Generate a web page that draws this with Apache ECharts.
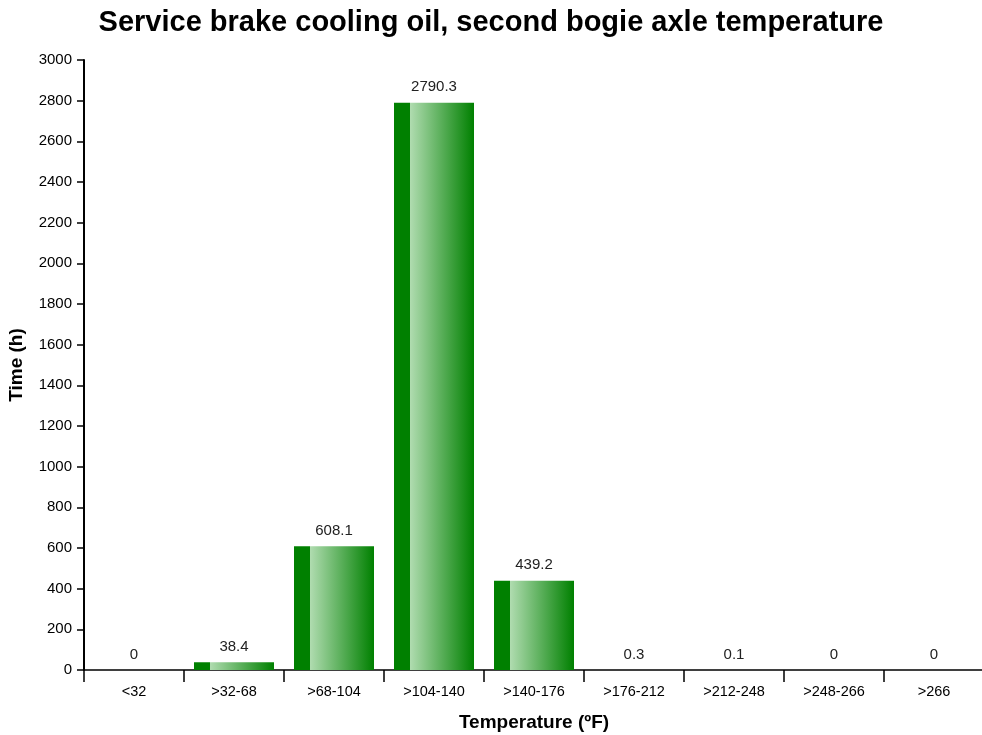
<!DOCTYPE html>
<html>
<head>
<meta charset="utf-8">
<script src="https://cdn.jsdelivr.net/npm/echarts@6/dist/echarts.min.js"></script>
<style>
  html, body { margin: 0; padding: 0; background: #fff; }
  #chart { width: 982px; height: 735px; }
</style>
</head>
<body>
<div id="chart"></div>
<script>
// temperature bins and hours spent in each
var categories = ['<32', '>32-68', '>68-104', '>104-140', '>140-176', '>176-212', '>212-248', '>248-266', '>266'];
var hours = [0, 38.4, 608.1, 2790.3, 439.2, 0.3, 0.1, 0, 0];
var yTicks = { min: 0, max: 3000, step: 200 };

var chart = echarts.init(document.getElementById('chart'));

// dark strip on the left, then light fading back to dark green
var barFill = new echarts.graphic.LinearGradient(0, 0, 1, 0, [
  { offset: 0, color: '#008000' },
  { offset: 0.2, color: '#008000' },
  { offset: 0.2, color: '#b0dcb0' },
  { offset: 1, color: '#008000' }
]);

var option = {
  animation: false,
  textStyle: { fontFamily: 'Liberation Sans, Arial, sans-serif' },
  title: {
    text: 'Service brake cooling oil, second bogie axle temperature',
    left: 'center',
    top: 3,
    textStyle: { fontSize: 29, fontWeight: 'bold', color: '#000' }
  },
  grid: { left: 84, top: 60, width: 900, bottom: 65, containLabel: false, outerBoundsMode: 'none' },
  xAxis: {
    type: 'category',
    data: categories,
    name: 'Temperature (ºF)',
    nameLocation: 'middle',
    nameGap: 43,
    nameTextStyle: { fontSize: 19, fontWeight: 'bold', color: '#000' },
    axisLine: { lineStyle: { color: '#000', width: 1.5 } },
    axisTick: { show: true, interval: 0, alignWithLabel: false, length: 12, lineStyle: { color: '#000', width: 1.5 } },
    axisLabel: { fontSize: 14.5, color: '#000', margin: 14, interval: 0 }
  },
  yAxis: {
    type: 'value',
    min: yTicks.min,
    max: yTicks.max,
    interval: yTicks.step,
    name: 'Time (h)',
    nameLocation: 'middle',
    nameGap: 58,
    nameTextStyle: { fontSize: 19, fontWeight: 'bold', color: '#000' },
    axisLine: { show: true, lineStyle: { color: '#000', width: 2 } },
    axisTick: { show: true, length: 7, lineStyle: { color: '#000', width: 1.5 } },
    axisLabel: { fontSize: 15, color: '#000', margin: 12, formatter: function (v) { return String(v); } },
    splitLine: { show: false }
  },
  series: [{
    type: 'bar',
    data: hours,
    barWidth: 80,
    itemStyle: { color: barFill },
    label: {
      show: true,
      position: 'top',
      distance: 8,
      fontSize: 15,
      color: '#222'
    }
  }]
};

chart.setOption(option);
</script>
</body>
</html>
